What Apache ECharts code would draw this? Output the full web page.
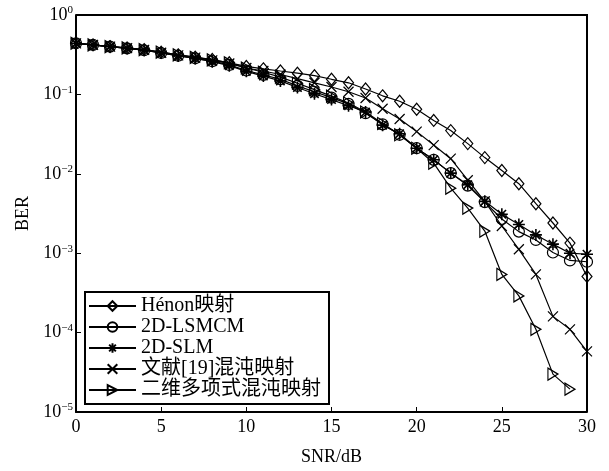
<!DOCTYPE html>
<html>
<head>
<meta charset="utf-8">
<script src="https://cdn.jsdelivr.net/npm/echarts@6/dist/echarts.min.js"></script>
<style>
  html, body { margin: 0; padding: 0; background: #fff; }
  #chart { width: 609px; height: 471px; }
</style>
</head>
<body>
<div id="chart"></div>
<script>
// SNR (dB)
var snr = [0, 1, 2, 3, 4, 5, 6, 7, 8, 9, 10, 11, 12, 13, 14, 15, 16, 17, 18, 19, 20,
  21, 22, 23, 24, 25, 26, 27, 28, 29, 30];

// BER of each scheme
var henon = [0.44, 0.42, 0.40, 0.385, 0.367, 0.34, 0.315, 0.295, 0.275, 0.25, 0.225,
  0.21, 0.197, 0.185, 0.172, 0.155, 0.14, 0.117, 0.096, 0.082, 0.065,
  0.047, 0.035, 0.024, 0.016, 0.011, 0.0075, 0.0042, 0.0024, 0.00134, 0.00051];
var lsmcm = [0.44, 0.42, 0.40, 0.38, 0.36, 0.332, 0.307, 0.285, 0.262, 0.235, 0.2,
  0.176, 0.155, 0.128, 0.108, 0.091, 0.076, 0.058, 0.042, 0.031, 0.021,
  0.015, 0.0102, 0.0071, 0.0044, 0.0027, 0.00187, 0.00147, 0.00102, 0.00081, 0.00078];
var slm = [0.44, 0.42, 0.40, 0.38, 0.36, 0.332, 0.305, 0.283, 0.258, 0.23, 0.195,
  0.17, 0.148, 0.122, 0.102, 0.086, 0.072, 0.06, 0.041, 0.032, 0.021,
  0.015, 0.0102, 0.0073, 0.0045, 0.0031, 0.0023, 0.0017, 0.0013, 0.001, 0.00097];
var ref19 = [0.44, 0.42, 0.40, 0.383, 0.363, 0.335, 0.31, 0.29, 0.268, 0.245, 0.215,
  0.197, 0.178, 0.158, 0.14, 0.124, 0.108, 0.09, 0.066, 0.049, 0.034,
  0.023, 0.0155, 0.0083, 0.0045, 0.0022, 0.00112, 0.00054, 0.00016, 0.00011, 0.000058];
var poly = [0.44, 0.42, 0.40, 0.385, 0.367, 0.34, 0.315, 0.293, 0.272, 0.25, 0.215,
  0.19, 0.165, 0.138, 0.115, 0.095, 0.078, 0.06, 0.043, 0.031, 0.021,
  0.0136, 0.0066, 0.0037, 0.0019, 0.00054, 0.00029, 0.00011, 0.00003, 0.0000194];

var names = ['Hénon映射', '2D-LSMCM', '2D-SLM', '文献[19]混沌映射', '二维多项式混沌映射'];

var serif = '"Liberation Serif", "Noto Sans CJK SC", serif';

// marker shapes (outline only)
var symDiamond = 'path://M5,0L10,6L5,12L0,6Z';
var symCircle = 'path://M10,5A5,5,0,1,1,0,5A5,5,0,1,1,10,5Z';
var symStar = 'path://M5,0L5,10M0,5L10,5M1.5,1.5L8.5,8.5M8.5,1.5L1.5,8.5';
var symCross = 'path://M0,0L10,10M10,0L0,10';
var symTri = 'path://M0,0L10,6L0,12Z';

function pairs(ys) {
  var out = [];
  for (var i = 0; i < ys.length; i++) {
    out.push([snr[i], ys[i]]);
  }
  return out;
}

function makeSeries(name, ys, symbol, size, bw) {
  return {
    name: name,
    type: 'line',
    data: pairs(ys),
    symbol: symbol,
    symbolSize: size,
    showAllSymbol: true,
    lineStyle: { color: '#000', width: 1.2 },
    itemStyle: { color: 'none', borderColor: '#000', borderWidth: bw || 1.2 },
    emphasis: { disabled: true },
    animation: false
  };
}

var chart = echarts.init(document.getElementById('chart'));

var option = {
  backgroundColor: '#fff',
  animation: false,
  grid: { left: 76, right: 22, top: 15, bottom: 54 },
  legend: {
    orient: 'vertical',
    left: 85,
    top: 292,
    padding: [4, 8, 4, 3],
    itemGap: 1,
    itemWidth: 47,
    itemHeight: 12,
    borderColor: '#000',
    borderWidth: 2,
    backgroundColor: '#fff',
    textStyle: { color: '#000', fontSize: 20, fontFamily: serif, lineHeight: 20 },
    data: names
  },
  xAxis: {
    type: 'value',
    min: 0,
    max: 30,
    interval: 5,
    name: 'SNR/dB',
    nameLocation: 'middle',
    nameGap: 36,
    nameTextStyle: { color: '#000', fontSize: 18, fontFamily: serif },
    axisLine: { lineStyle: { color: '#000', width: 2 } },
    axisTick: { inside: true, length: 5, lineStyle: { color: '#000', width: 1 } },
    axisLabel: { color: '#000', fontSize: 18, fontFamily: serif, margin: 6 },
    splitLine: { show: false }
  },
  yAxis: {
    type: 'log',
    logBase: 10,
    min: 1e-5,
    max: 1,
    name: 'BER',
    nameLocation: 'middle',
    nameGap: 44,
    nameTextStyle: { color: '#000', fontSize: 18, fontFamily: serif },
    axisLine: { lineStyle: { color: '#000', width: 2 } },
    axisTick: { inside: true, length: 5, lineStyle: { color: '#000', width: 1 } },
    axisLabel: {
      color: '#000',
      margin: 3,
      fontSize: 18,
      fontFamily: serif,
      formatter: function (v) {
        var e = Math.round(Math.log10(v));
        var s = e < 0 ? '\u2212' + (-e) : '' + e;
        return '{b|10}{sup|' + s + '}';
      },
      rich: {
        b: { fontSize: 18, fontFamily: serif, color: '#000' },
        sup: { fontSize: 11, fontFamily: serif, color: '#000', padding: [0, 0, 9, 0] }
      }
    },
    splitLine: { show: false }
  },
  series: [
    makeSeries(names[0], henon, symDiamond, [10, 12]),
    makeSeries(names[1], lsmcm, symCircle, 11),
    makeSeries(names[2], slm, symStar, 12, 1.6),
    makeSeries(names[3], ref19, symCross, 10),
    makeSeries(names[4], poly, symTri, [10, 12])
  ]
};

chart.setOption(option);

// box lines on top and right
var rect = chart.getModel().getComponent('grid').coordinateSystem.getRect();
chart.setOption({
  graphic: [{
    type: 'polyline',
    shape: { points: [[rect.x, rect.y], [rect.x + rect.width, rect.y], [rect.x + rect.width, rect.y + rect.height]] },
    style: { stroke: '#000', lineWidth: 2, fill: 'none' },
    silent: true
  }]
});
</script>
</body>
</html>
